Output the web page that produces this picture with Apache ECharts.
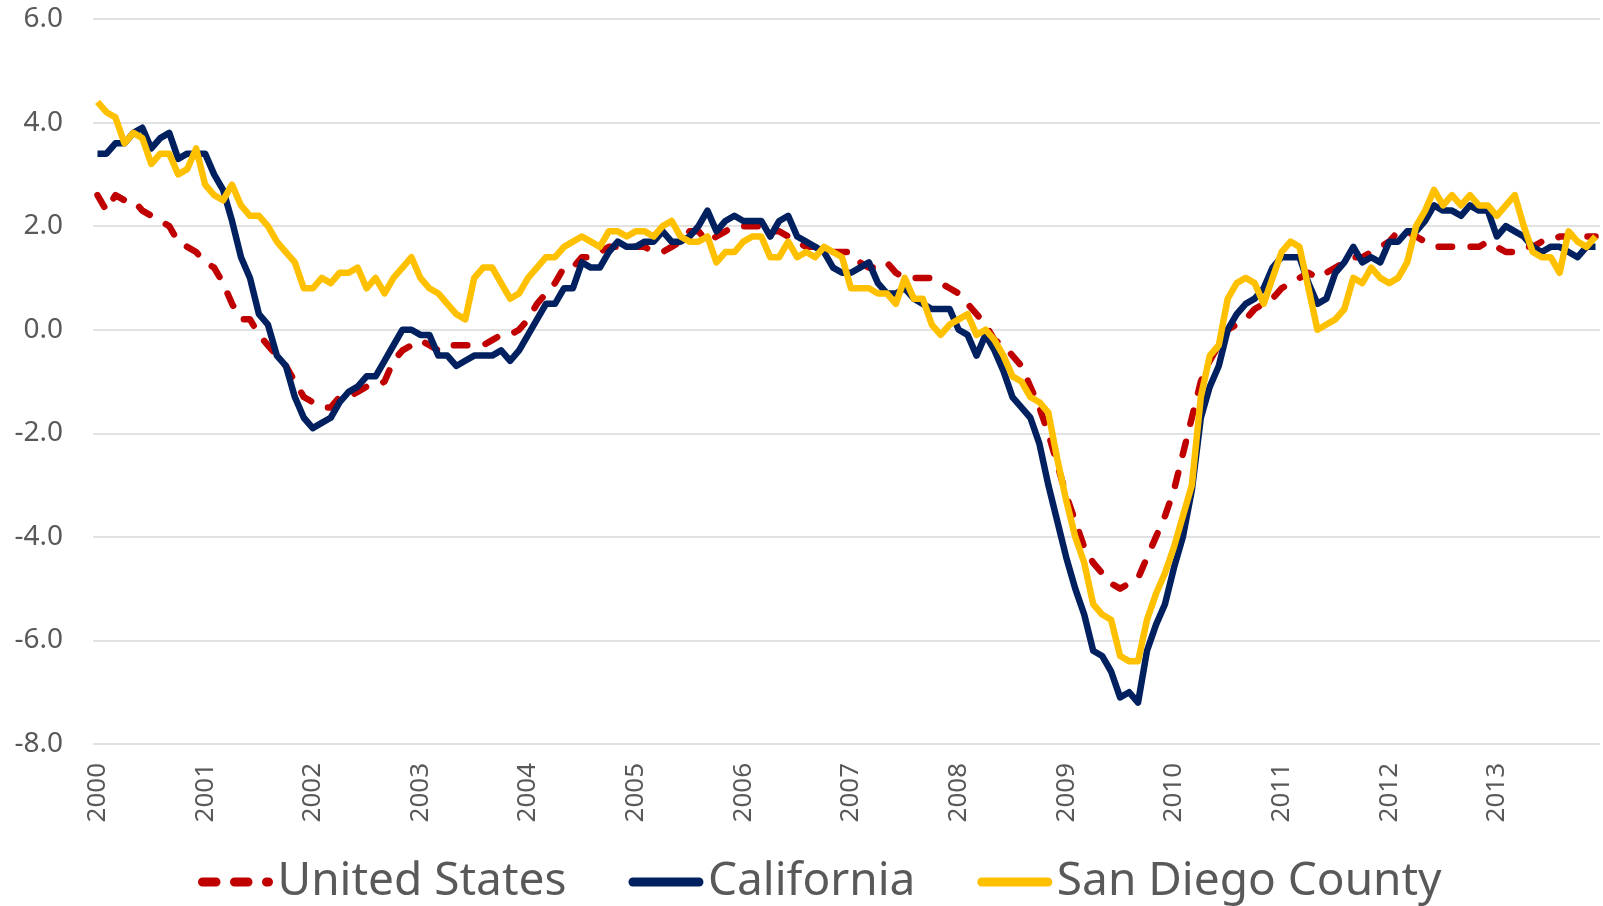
<!DOCTYPE html>
<html>
<head>
<meta charset="utf-8">
<title>Job growth</title>
<script src="https://cdn.jsdelivr.net/npm/echarts@6/dist/echarts.min.js"></script>
<style>
    html, body { margin: 0; padding: 0; background: #fff; }
    #chart { width: 1603px; height: 906px; }
</style>
</head>
<body>
<div id="chart"></div>
<script>
// year-over-year change, monthly, Jan 2000 - Dec 2013
var years = ['2000', '2001', '2002', '2003', '2004', '2005', '2006',
             '2007', '2008', '2009', '2010', '2011', '2012', '2013'];

var usValues = [
    2.6, 2.3, 2.6, 2.5, 2.5, 2.3, 2.2, 2.1, 2.0, 1.7, 1.6, 1.5,
    1.3, 1.2, 0.9, 0.5, 0.2, 0.2, -0.1, -0.3, -0.5, -0.7, -1.0, -1.3,
    -1.4, -1.5, -1.5, -1.3, -1.3, -1.2, -1.1, -1.1, -1.0, -0.6, -0.4, -0.3,
    -0.2, -0.3, -0.4, -0.3, -0.3, -0.3, -0.3, -0.3, -0.2, -0.1, -0.1, 0.0,
    0.2, 0.5, 0.7, 0.9, 1.2, 1.2, 1.4, 1.4, 1.5, 1.6, 1.6, 1.6,
    1.6, 1.6, 1.5, 1.5, 1.6, 1.7, 1.9, 1.9, 1.7, 1.8, 1.9, 2.0,
    2.0, 2.0, 2.0, 1.9, 1.9, 1.8, 1.7, 1.6, 1.6, 1.5, 1.5, 1.5,
    1.5, 1.3, 1.2, 1.2, 1.3, 1.1, 1.0, 1.0, 1.0, 1.0, 0.9, 0.8,
    0.7, 0.5, 0.3, 0.1, -0.2, -0.3, -0.5, -0.7, -1.1, -1.5, -2.0, -2.6,
    -3.2, -3.7, -4.2, -4.5, -4.7, -4.9, -5.0, -4.9, -4.8, -4.4, -4.0, -3.6,
    -3.1, -2.4, -1.7, -1.0, -0.6, -0.3, 0.0, 0.1, 0.2, 0.4, 0.5, 0.6,
    0.8, 0.9, 1.0, 1.1, 1.0, 1.1, 1.2, 1.3, 1.4, 1.4, 1.5, 1.6,
    1.7, 1.9, 1.9, 1.8, 1.7, 1.6, 1.6, 1.6, 1.6, 1.6, 1.6, 1.7,
    1.6, 1.5, 1.5, 1.6, 1.6, 1.7, 1.7, 1.8, 1.8, 1.9, 1.8, 1.8
];

var caValues = [
    3.4, 3.4, 3.6, 3.6, 3.8, 3.9, 3.5, 3.7, 3.8, 3.3, 3.4, 3.4,
    3.4, 3.0, 2.7, 2.1, 1.4, 1.0, 0.3, 0.1, -0.5, -0.7, -1.3, -1.7,
    -1.9, -1.8, -1.7, -1.4, -1.2, -1.1, -0.9, -0.9, -0.6, -0.3, 0.0, 0.0,
    -0.1, -0.1, -0.5, -0.5, -0.7, -0.6, -0.5, -0.5, -0.5, -0.4, -0.6, -0.4,
    -0.1, 0.2, 0.5, 0.5, 0.8, 0.8, 1.3, 1.2, 1.2, 1.5, 1.7, 1.6,
    1.6, 1.7, 1.7, 1.9, 1.7, 1.7, 1.8, 2.0, 2.3, 1.9, 2.1, 2.2,
    2.1, 2.1, 2.1, 1.8, 2.1, 2.2, 1.8, 1.7, 1.6, 1.5, 1.2, 1.1,
    1.1, 1.2, 1.3, 0.9, 0.7, 0.7, 0.8, 0.6, 0.5, 0.4, 0.4, 0.4,
    0.0, -0.1, -0.5, -0.1, -0.4, -0.8, -1.3, -1.5, -1.7, -2.2, -3.0, -3.7,
    -4.4, -5.0, -5.5, -6.2, -6.3, -6.6, -7.1, -7.0, -7.2, -6.2, -5.7, -5.3,
    -4.6, -4.0, -3.1, -1.7, -1.1, -0.7, 0.0, 0.3, 0.5, 0.6, 0.8, 1.2,
    1.4, 1.4, 1.4, 0.9, 0.5, 0.6, 1.1, 1.3, 1.6, 1.3, 1.4, 1.3,
    1.7, 1.7, 1.9, 1.9, 2.1, 2.4, 2.3, 2.3, 2.2, 2.4, 2.3, 2.3,
    1.8, 2.0, 1.9, 1.8, 1.6, 1.5, 1.6, 1.6, 1.5, 1.4, 1.6, 1.6
];

var sdValues = [
    4.4, 4.2, 4.1, 3.6, 3.8, 3.7, 3.2, 3.4, 3.4, 3.0, 3.1, 3.5,
    2.8, 2.6, 2.5, 2.8, 2.4, 2.2, 2.2, 2.0, 1.7, 1.5, 1.3, 0.8,
    0.8, 1.0, 0.9, 1.1, 1.1, 1.2, 0.8, 1.0, 0.7, 1.0, 1.2, 1.4,
    1.0, 0.8, 0.7, 0.5, 0.3, 0.2, 1.0, 1.2, 1.2, 0.9, 0.6, 0.7,
    1.0, 1.2, 1.4, 1.4, 1.6, 1.7, 1.8, 1.7, 1.6, 1.9, 1.9, 1.8,
    1.9, 1.9, 1.8, 2.0, 2.1, 1.8, 1.7, 1.7, 1.8, 1.3, 1.5, 1.5,
    1.7, 1.8, 1.8, 1.4, 1.4, 1.7, 1.4, 1.5, 1.4, 1.6, 1.5, 1.4,
    0.8, 0.8, 0.8, 0.7, 0.7, 0.5, 1.0, 0.6, 0.6, 0.1, -0.1, 0.1,
    0.2, 0.3, -0.1, 0.0, -0.2, -0.5, -0.9, -1.0, -1.3, -1.4, -1.6, -2.5,
    -3.3, -4.0, -4.5, -5.3, -5.5, -5.6, -6.3, -6.4, -6.4, -5.6, -5.1, -4.7,
    -4.2, -3.6, -3.0, -1.3, -0.5, -0.3, 0.6, 0.9, 1.0, 0.9, 0.5, 1.0,
    1.5, 1.7, 1.6, 0.8, 0.0, 0.1, 0.2, 0.4, 1.0, 0.9, 1.2, 1.0,
    0.9, 1.0, 1.3, 2.0, 2.3, 2.7, 2.4, 2.6, 2.4, 2.6, 2.4, 2.4,
    2.2, 2.4, 2.6, 2.0, 1.5, 1.4, 1.4, 1.1, 1.9, 1.7, 1.6, 1.8
];

var seriesNames = ['United States', 'California', 'San Diego County'];
var seriesColors = ['#C00000', '#002060', '#FFC000'];

// one category per month, only January gets a label
var months = [];
years.forEach(function (y) {
    for (var m = 1; m <= 12; m++) {
        months.push(y + '-' + (m < 10 ? '0' + m : m));
    }
});

var font = '"Noto Sans", "Open Sans", sans-serif';
var chart = echarts.init(document.getElementById('chart'), null, { renderer: 'canvas' });

var option = {
    animation: false,
    backgroundColor: '#ffffff',
    color: seriesColors,
    grid: {
        left: 93,
        right: 3,
        top: 19,
        bottom: 162
    },
    legend: {
        left: 193,
        top: 854,
        itemWidth: 66,
        itemHeight: 18,
        itemGap: 62,
        textStyle: {
            fontFamily: font,
            fontSize: 46,
            color: '#595959',
            padding: [0, 0, 0, 4]
        },
        // hide the marker dot, keep the line
        itemStyle: {
            opacity: 0
        },
        lineStyle: {
            width: 9,
            cap: 'round'
        },
        data: seriesNames
    },
    xAxis: {
        type: 'category',
        boundaryGap: true,
        data: months,
        axisLine: { show: false },
        axisTick: { show: false },
        splitLine: { show: false },
        axisLabel: {
            rotate: 90,
            margin: 19,
            color: '#595959',
            fontFamily: font,
            fontSize: 26,
            interval: function (index) {
                return index % 12 === 0;
            },
            formatter: function (value) {
                return value.slice(0, 4);
            }
        }
    },
    yAxis: {
        type: 'value',
        min: -8,
        max: 6,
        interval: 2,
        axisLine: { show: false },
        axisTick: { show: false },
        splitLine: {
            lineStyle: { color: '#D9D9D9', width: 1.5 }
        },
        axisLabel: {
            margin: 30,
            color: '#595959',
            fontFamily: font,
            fontSize: 28,
            formatter: function (v) {
                return v.toFixed(1);
            }
        }
    },
    series: [
        {
            name: seriesNames[0],
            type: 'line',
            symbol: 'none',
            data: usValues,
            lineStyle: {
                color: seriesColors[0],
                width: 6.5,
                type: [13.5, 18.5],
                cap: 'round',
                join: 'round'
            }
        },
        {
            name: seriesNames[1],
            type: 'line',
            symbol: 'none',
            data: caValues,
            lineStyle: {
                color: seriesColors[1],
                width: 6.5,
                join: 'round'
            }
        },
        {
            name: seriesNames[2],
            type: 'line',
            symbol: 'none',
            data: sdValues,
            lineStyle: {
                color: seriesColors[2],
                width: 6.5,
                join: 'round'
            }
        }
    ]
};

chart.setOption(option);
</script>
</body>
</html>
